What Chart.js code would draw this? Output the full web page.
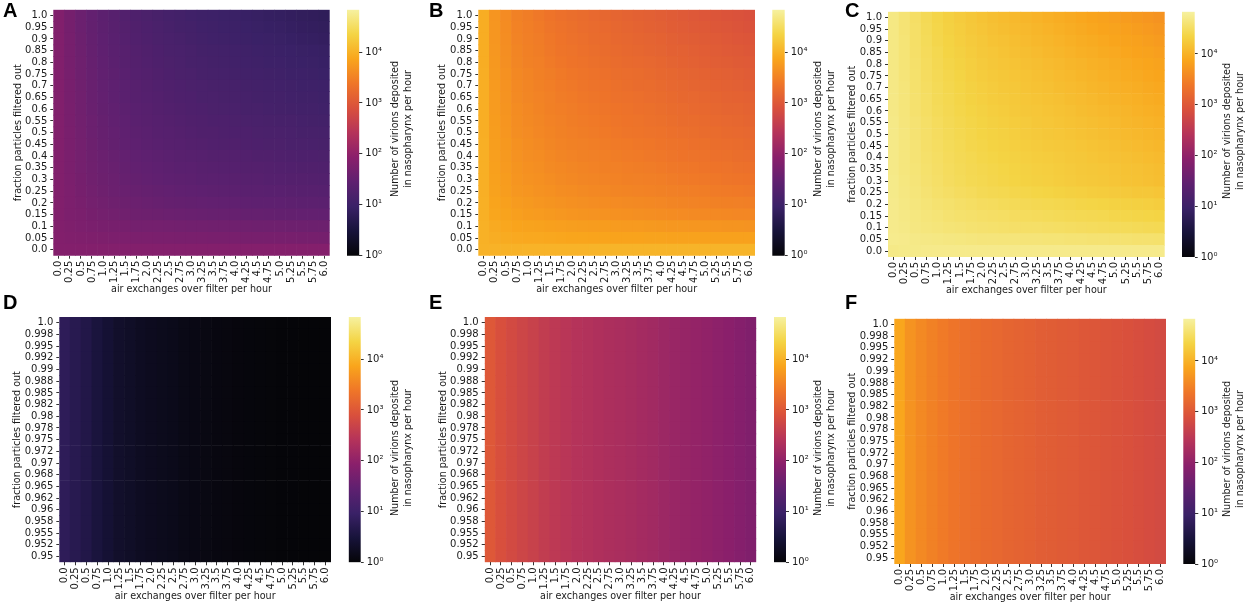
<!DOCTYPE html>
<html lang="en">
<head>
    <meta charset="UTF-8">
    <title>Virions deposited in nasopharynx</title>
    <script src="https://cdn.jsdelivr.net/npm/chart.js"></script>
    <style>
        html, body { margin: 0; padding: 0; background: #fff; overflow: hidden; }
        body { width: 1247px; height: 605px; position: relative; font-family: "DejaVu Sans", sans-serif; }
        canvas { position: absolute; }
        .letter { position: absolute; font: bold 20px "Liberation Sans", Arial, sans-serif; color: #000; line-height: 20px; }
        .cbLabel {
            position: absolute; width: 200px; margin-left: -100px; text-align: center;
            font-size: 9.6px; line-height: 13px; color: #1a1a1a; white-space: nowrap;
            transform: translateY(-50%) rotate(-90deg);
        }
    </style>
</head>
<body>
<script>
    const airExchanges = ['0.0','0.25','0.5','0.75','1.0','1.25','1.5','1.75','2.0','2.25','2.5','2.75','3.0','3.25','3.5','3.75','4.0','4.25','4.5','4.75','5.0','5.25','5.5','5.75','6.0'];
    const fractionWide = ['1.0','0.95','0.9','0.85','0.8','0.75','0.7','0.65','0.6','0.55','0.5','0.45','0.4','0.35','0.3','0.25','0.2','0.15','0.1','0.05','0.0'];
    const fractionNarrow = ['1.0','0.998','0.995','0.992','0.99','0.988','0.985','0.982','0.98','0.978','0.975','0.972','0.97','0.968','0.965','0.962','0.96','0.958','0.955','0.952','0.95'];
    const colorbarTicks = [1, 10, 100, 1000, 10000];
    const colorbarLabels = ['10⁰', '10¹', '10²', '10³', '10⁴'];
    const colorbarMax = 67900;

    // all tables: log10(virions per hour) x 100, top row first
    const tableA = [
        [183,170,159,149,141,135,128,123,119,115,111,108,105,102,100,98,96,94,92,90,89,87,85,84,82],
        [183,170,159,150,142,136,130,125,121,117,113,110,108,105,103,101,99,97,95,93,92,90,88,87,85],
        [183,171,160,151,143,137,132,127,123,119,116,113,110,107,105,103,101,99,97,96,95,93,91,90,88],
        [183,171,161,152,145,139,134,129,126,122,118,116,113,110,108,107,105,103,101,99,98,97,95,94,92],
        [183,171,162,153,146,140,135,130,127,123,120,117,114,112,110,108,106,105,103,101,100,98,97,96,94],
        [183,172,162,154,147,142,137,132,129,125,122,119,117,114,112,111,109,107,106,104,103,101,100,99,97],
        [183,172,163,155,148,143,138,134,131,127,124,122,119,117,115,113,112,110,108,107,106,104,102,102,100],
        [183,172,164,155,149,144,139,135,132,129,126,123,121,118,117,115,113,112,110,109,108,106,104,104,102],
        [183,173,164,156,150,146,141,137,134,131,128,125,123,121,119,117,116,114,113,111,110,109,107,107,105],
        [183,173,165,158,152,147,143,139,136,133,130,128,126,124,122,121,119,118,116,115,114,113,111,110,109],
        [183,174,166,159,153,149,145,141,138,135,133,130,128,126,125,123,122,121,119,118,117,116,114,113,112],
        [183,174,167,160,154,150,146,143,140,137,135,133,131,129,127,126,125,123,122,120,120,118,117,116,115],
        [183,175,168,162,157,153,149,146,143,141,138,136,134,133,131,130,129,128,126,125,124,123,122,121,120],
        [183,175,169,163,158,155,151,148,146,143,141,139,138,136,135,133,132,131,130,129,128,127,126,125,124],
        [183,176,170,164,160,157,153,151,148,146,144,142,141,139,138,137,136,135,134,132,132,131,130,129,128],
        [183,177,171,166,162,159,156,154,152,150,148,146,145,143,142,141,140,139,138,137,137,136,135,134,133],
        [183,177,173,168,165,162,160,158,156,154,152,151,150,149,148,147,146,145,144,143,143,142,141,141,140],
        [183,178,175,171,168,166,164,162,161,160,158,157,156,155,154,154,153,152,152,151,150,150,149,149,148],
        [183,180,177,175,173,172,171,169,169,168,167,166,165,165,164,164,163,163,162,162,162,161,161,160,160],
        [184,182,181,180,179,178,177,176,176,175,175,174,174,174,173,173,173,172,172,172,172,172,171,171,170],
        [185,185,185,185,185,185,185,185,185,185,185,185,185,185,185,185,185,186,186,186,186,186,186,186,186]
    ];
    const tableB = [
        [395,370,360,350,345,340,335,331,328,325,322,319,316,314,312,310,308,305,303,300,298,296,294,292,290],
        [395,371,361,351,346,342,337,333,330,327,324,322,319,316,314,312,310,307,305,303,301,299,297,295,293],
        [395,371,362,352,347,344,339,335,332,329,326,324,321,319,317,315,313,310,308,306,304,302,300,298,296],
        [395,372,363,354,349,345,340,336,334,331,328,326,323,321,319,317,315,312,311,309,307,305,303,301,299],
        [395,373,364,355,350,347,342,338,335,333,330,328,325,323,322,320,318,315,313,311,309,308,306,304,302],
        [396,374,366,357,353,349,345,341,338,336,333,331,328,327,325,323,321,319,317,315,313,311,310,308,305],
        [396,375,367,358,354,350,346,342,340,337,334,333,330,328,326,325,323,320,319,317,315,313,312,310,308],
        [396,376,368,359,355,352,348,344,342,339,337,335,332,331,329,327,325,323,321,320,318,316,314,313,311],
        [396,376,369,361,357,353,349,346,344,341,339,337,335,333,331,330,328,325,324,322,321,319,317,316,314],
        [396,377,370,362,358,355,351,348,345,343,341,339,337,335,334,332,330,328,326,325,323,322,320,319,317],
        [396,378,371,363,360,356,353,350,347,345,343,341,339,337,336,334,333,331,329,328,326,325,323,322,320],
        [397,379,373,366,362,359,355,352,350,348,346,344,342,341,339,338,336,334,333,331,330,328,327,325,323],
        [397,380,374,367,363,361,357,354,352,350,348,347,345,343,342,340,339,337,335,334,333,331,330,328,327],
        [397,381,375,369,365,363,359,357,355,353,351,349,348,346,345,344,342,340,339,338,336,335,334,332,331],
        [397,382,377,370,367,365,362,359,357,355,354,352,351,349,348,347,346,344,342,341,340,339,337,336,335],
        [397,383,378,372,370,367,365,362,361,359,357,356,354,353,352,351,350,348,347,346,345,343,342,341,340],
        [398,386,381,376,374,371,369,367,365,364,362,361,360,359,358,357,356,354,353,352,351,350,349,348,347],
        [398,388,384,380,377,376,374,372,370,369,368,367,366,365,364,363,362,361,360,359,358,358,357,356,356],
        [399,392,389,386,384,383,381,380,379,378,377,377,376,375,375,374,373,372,372,371,370,370,369,369,368],
        [399,395,393,391,390,390,389,388,387,387,386,386,385,385,385,384,384,383,383,383,382,382,382,382,382],
        [400,400,400,400,401,401,401,401,401,401,402,402,402,402,402,402,402,402,402,402,402,402,402,402,402]
    ];
    const tableC = [
        [468,460,452,444,437,431,426,421,417,413,410,407,404,401,398,395,392,389,386,383,380,377,374,371,368],
        [468,460,453,445,438,432,428,423,419,415,412,409,407,404,401,398,395,392,389,386,384,381,378,375,372],
        [468,461,453,446,439,434,429,425,421,417,415,412,409,406,404,401,398,395,393,390,387,384,382,379,376],
        [468,461,454,447,441,435,431,427,423,420,417,414,412,409,406,404,401,398,396,393,391,388,385,383,380],
        [468,461,455,448,442,437,433,429,425,422,419,417,414,412,409,407,404,402,399,397,394,392,389,387,384],
        [469,462,456,449,444,439,435,430,427,424,421,419,417,414,412,409,407,404,402,399,397,394,392,389,387],
        [469,463,456,450,445,440,436,432,429,426,423,421,418,416,414,411,409,407,404,402,399,397,395,392,390],
        [469,463,457,451,445,441,437,433,430,427,425,423,420,418,416,414,411,409,407,404,402,400,398,395,393],
        [469,463,457,451,446,442,438,435,432,429,427,424,422,420,418,416,414,411,409,407,405,403,400,398,396],
        [470,464,459,453,448,444,440,437,434,431,429,427,425,422,420,418,416,414,412,410,408,405,403,401,399],
        [470,465,459,454,449,445,441,438,435,433,431,429,426,424,422,420,418,416,414,412,410,408,406,404,402],
        [470,465,460,454,450,446,443,439,437,434,432,430,428,426,424,423,421,419,417,415,413,411,409,407,405],
        [470,465,460,455,451,447,444,441,438,436,434,432,430,428,427,425,423,421,419,417,415,414,412,410,408],
        [470,465,461,456,452,448,445,442,440,438,436,434,432,430,429,427,425,423,422,420,418,416,415,413,411],
        [471,466,462,457,453,449,446,443,441,439,437,435,433,431,430,428,426,424,423,421,419,417,416,414,412],
        [471,467,463,459,455,452,449,447,444,442,441,439,438,436,435,433,431,430,428,427,425,424,422,421,419],
        [472,468,465,461,458,456,453,451,449,448,446,445,444,442,441,440,439,437,436,435,433,432,431,430,428],
        [472,469,466,463,461,458,456,455,453,452,451,449,448,447,446,445,444,443,442,441,439,438,437,436,435],
        [472,470,467,465,463,461,460,458,457,456,455,454,453,453,452,451,450,449,448,447,446,446,445,444,443],
        [473,472,470,469,468,467,466,465,464,464,463,463,462,462,461,461,460,460,459,459,458,458,457,457,456],
        [470,471,471,472,472,472,472,472,472,472,472,472,472,472,472,472,472,472,472,472,472,472,472,472,472]
    ];
    // the lower three panels look the same on every row, so one row is read for each
    const rowD = [80,72,63,52,43,34,30,25,22,19,17,14,12,10,8,7,5,4,3,2,1,1,0,0,0];
    const rowE = [300,288,280,273,266,258,252,247,242,238,235,232,229,226,222,219,214,210,207,204,201,197,193,188,182];
    const rowF = [388,368,358,350,342,336,331,327,323,320,317,314,311,308,306,304,302,299,297,295,292,290,287,284,281];
    const tableD = fractionNarrow.map(() => rowD);
    const tableE = fractionNarrow.map(() => rowE);
    const tableF = fractionNarrow.map(() => rowF);

    // inferno as it looks in the picture's colourbar (a bit muted)
    const inferno = ['#050508','#17133a','#3a2167','#5f2070','#8a1f6b','#b5335a','#d9503c','#ef7628','#f9a51c','#f4d444','#f6f1a0'];
    const infernoRgb = inferno.map(c => [1, 3, 5].map(i => parseInt(c.substr(i, 2), 16)));

    function colorFor(cell) {
        const t = Math.min(Math.max(cell / 100 / Math.log10(colorbarMax), 0), 1) * (inferno.length - 1);
        const i = Math.min(Math.floor(t), inferno.length - 2);
        const f = t - i;
        const c = infernoRgb[i].map((v, k) => Math.round(v + (infernoRgb[i + 1][k] - v) * f));
        return 'rgb(' + c.join(',') + ')';
    }

    Chart.defaults.font.family = '"DejaVu Sans", sans-serif';
    Chart.defaults.font.size = 10;
    Chart.defaults.color = '#1a1a1a';
    Chart.defaults.animation = false;

    const panels = [
        { name: 'A', table: tableA, rows: fractionWide,   left: 53.3,  right: 329.7,  top: 9.7,   bottom: 255.7, titleX: 19,  cbLeft: 347,    cbRight: 359.3,  cbLabelX: 400.5,  cbLabelY: 129,   letterX: 3,   letterY: 0 },
        { name: 'B', table: tableB, rows: fractionWide,   left: 478.3, right: 755,    top: 9.7,   bottom: 255.7, titleX: 443, cbLeft: 772.3,  cbRight: 784.7,  cbLabelX: 823.5,  cbLabelY: 129,   letterX: 429, letterY: 0 },
        { name: 'C', table: tableC, rows: fractionWide,   left: 888,   right: 1164.7, top: 11.7,  bottom: 257,   titleX: 853, cbLeft: 1182,   cbRight: 1194.7, cbLabelX: 1232.5, cbLabelY: 130.5, letterX: 845, letterY: 0 },
        { name: 'D', table: tableD, rows: fractionNarrow, left: 59.3,  right: 331,    top: 317,   bottom: 562.3, titleX: 18,  cbLeft: 348.7,  cbRight: 360.7,  cbLabelX: 400.5,  cbLabelY: 447.5, letterX: 3,   letterY: 292 },
        { name: 'E', table: tableE, rows: fractionNarrow, left: 484.7, right: 756.3,  top: 317,   bottom: 562.3, titleX: 444, cbLeft: 774,    cbRight: 786,    cbLabelX: 823.5,  cbLabelY: 447.5, letterX: 429, letterY: 292 },
        { name: 'F', table: tableF, rows: fractionNarrow, left: 894.3, right: 1166,   top: 318.7, bottom: 564,   titleX: 853, cbLeft: 1183.3, cbRight: 1195.3, cbLabelX: 1232.5, cbLabelY: 449,   letterX: 845, letterY: 292 }
    ];

    function addCanvas(left, top, width, height) {
        const c = document.createElement('canvas');
        c.width = width;
        c.height = height;
        c.style.left = left + 'px';
        c.style.top = top + 'px';
        c.style.width = width + 'px';
        c.style.height = height + 'px';
        document.body.appendChild(c);
        return c;
    }

    const tickGrid = { display: true, drawOnChartArea: false, drawTicks: true, tickLength: 3, tickWidth: 1, tickColor: '#333', offset: false };

    function drawHeatmap(p) {
        const canvasLeft = Math.floor(p.titleX - 6);
        const canvasTop = Math.floor(p.top);
        const xAxisHeight = 39.6;
        const w = Math.ceil(p.right) + 1 - canvasLeft;
        const h = Math.ceil(p.bottom + xAxisHeight) - canvasTop;
        const canvas = addCanvas(canvasLeft, canvasTop, w, h);

        // stacked bars, bottom row first
        const bottomUp = p.table.slice().reverse();
        const datasets = bottomUp.map(row => ({
            data: row.map(() => 1),
            backgroundColor: row.map(cell => colorFor(cell)),
            borderWidth: 0,
            barPercentage: 1,
            categoryPercentage: 1
        }));
        const rowLabels = p.rows.slice().reverse();

        new Chart(canvas, {
            type: 'bar',
            data: { labels: airExchanges, datasets: datasets },
            options: {
                responsive: false,
                devicePixelRatio: 1,
                layout: { padding: { top: p.top - canvasTop, right: w - (p.right - canvasLeft), left: 0, bottom: h - (p.bottom - canvasTop) - xAxisHeight } },
                plugins: { legend: { display: false }, tooltip: { enabled: false } },
                scales: {
                    x: {
                        stacked: true,
                        grid: tickGrid,
                        border: { display: false },
                        ticks: { autoSkip: false, minRotation: 90, maxRotation: 90, padding: 2, font: { size: 10 } },
                        title: { display: true, text: 'air exchanges over filter per hour', padding: 0, font: { size: 9.6 } },
                        afterFit: s => { s.height = xAxisHeight; s.paddingLeft = 0; s.paddingRight = 0; }
                    },
                    y: {
                        stacked: true,
                        min: 0,
                        max: rowLabels.length,
                        grid: tickGrid,
                        border: { display: false },
                        afterBuildTicks: s => { s.ticks = rowLabels.map((l, i) => ({ value: i + 0.5 })); },
                        ticks: { autoSkip: false, padding: 3, font: { size: 10 }, callback: v => rowLabels[Math.floor(v)] },
                        title: { display: true, text: 'fraction particles filtered out', padding: 0, font: { size: 9.6 } },
                        afterFit: s => { s.width = p.left - canvasLeft; s.paddingTop = 0; s.paddingBottom = 0; }
                    }
                }
            }
        });
    }

    function drawColorbar(p) {
        const pad = 8;
        const canvasLeft = Math.floor(p.cbLeft);
        const canvasTop = Math.floor(p.top) - pad;
        const axisWidth = 30;
        const w = Math.ceil(p.cbRight) + axisWidth - canvasLeft;
        const h = Math.ceil(p.bottom) + pad - canvasTop;
        const canvas = addCanvas(canvasLeft, canvasTop, w, h);

        new Chart(canvas, {
            type: 'bar',
            data: {
                labels: [''],
                datasets: [{
                    data: [[1, colorbarMax]],
                    borderWidth: 0,
                    barPercentage: 1,
                    categoryPercentage: 1,
                    backgroundColor: ctx => {
                        const area = ctx.chart.chartArea;
                        if (!area) return '#000';
                        const g = ctx.chart.ctx.createLinearGradient(0, area.bottom, 0, area.top);
                        inferno.forEach((c, i) => g.addColorStop(i / (inferno.length - 1), c));
                        return g;
                    }
                }]
            },
            options: {
                responsive: false,
                devicePixelRatio: 1,
                layout: { padding: { left: p.cbLeft - canvasLeft, top: p.top - canvasTop, bottom: h - (p.bottom - canvasTop), right: 0 } },
                plugins: { legend: { display: false }, tooltip: { enabled: false } },
                scales: {
                    x: { display: false },
                    y: {
                        type: 'logarithmic',
                        position: 'right',
                        min: 1,
                        max: colorbarMax,
                        grid: tickGrid,
                        border: { display: false },
                        afterBuildTicks: s => { s.ticks = colorbarTicks.map(v => ({ value: v })); },
                        ticks: { autoSkip: false, padding: 3, font: { size: 10 }, callback: v => colorbarLabels[colorbarTicks.indexOf(v)] },
                        afterFit: s => { s.width = w - (p.cbRight - canvasLeft); s.paddingTop = 0; s.paddingBottom = 0; }
                    }
                }
            }
        });

        const label = document.createElement('div');
        label.className = 'cbLabel';
        label.style.left = p.cbLabelX + 'px';
        label.style.top = p.cbLabelY + 'px';
        label.innerHTML = 'Number of virions deposited<br>in nasopharynx per hour';
        document.body.appendChild(label);
    }

    panels.forEach(p => {
        drawHeatmap(p);
        drawColorbar(p);
        const letter = document.createElement('div');
        letter.className = 'letter';
        letter.style.left = p.letterX + 'px';
        letter.style.top = p.letterY + 'px';
        letter.textContent = p.name;
        document.body.appendChild(letter);
    });
</script>
</body>
</html>
